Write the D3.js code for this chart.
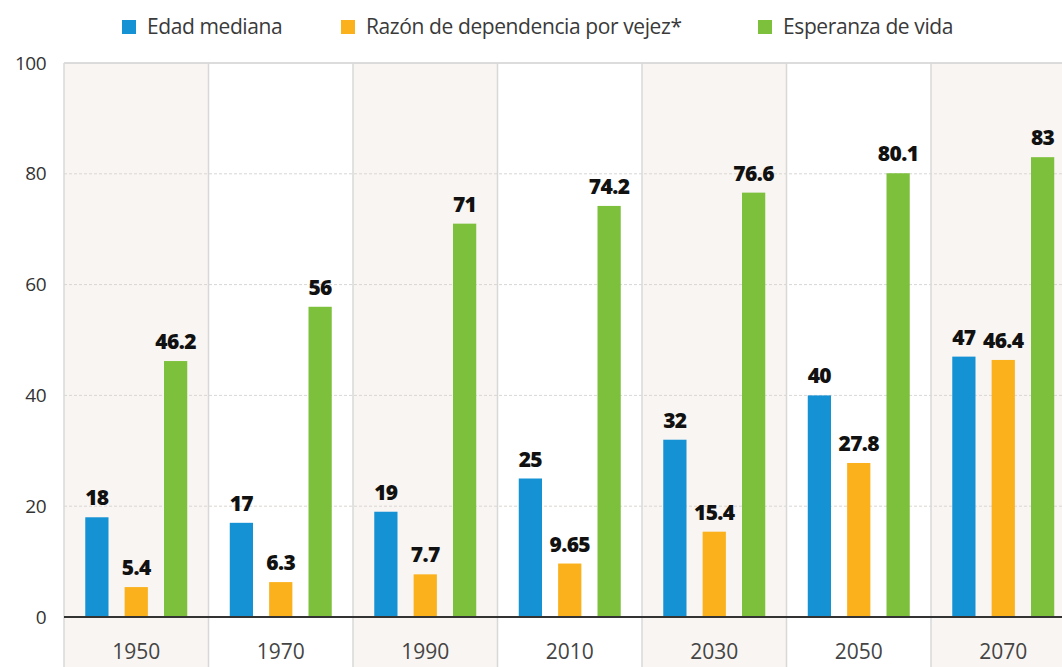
<!DOCTYPE html>
<html>
<head>
<meta charset="utf-8">
<script src="https://cdn.jsdelivr.net/npm/d3@7"></script>
<style>
  body { margin: 0; background: #fff; }
  #chart { width: 1062px; height: 667px; overflow: hidden; }
</style>
</head>
<body>
<div id="chart"></div>
<script>
const years = ["1950", "1970", "1990", "2010", "2030", "2050", "2070"];
const seriesNames = ["Edad mediana", "Razón de dependencia por vejez*", "Esperanza de vida"];
const edadMediana = [18, 17, 19, 25, 32, 40, 47];
const razonDependencia = [5.4, 6.3, 7.7, 9.65, 15.4, 27.8, 46.4];
const esperanzaVida = [46.2, 56, 71, 74.2, 76.6, 80.1, 83];
const labelsEdad = ["18", "17", "19", "25", "32", "40", "47"];
const labelsRazon = ["5.4", "6.3", "7.7", "9.65", "15.4", "27.8", "46.4"];
const labelsVida = ["46.2", "56", "71", "74.2", "76.6", "80.1", "83"];
const yTicks = [0, 20, 40, 60, 80, 100];

const width = 1062, height = 667;
const margin = { top: 63, left: 64, bottom: 50 };
const colors = ["#1592d4", "#fbb11b", "#7cc03b"];
const font = "'Open Sans', sans-serif";

const svg = d3.select('#chart').append('svg')
  .attr('width', width)
  .attr('height', height)
  .attr('viewBox', [0, 0, width, height]);

const x0 = d3.scaleBand()
  .domain(years)
  .range([margin.left, margin.left + 144.5 * years.length])
  .paddingInner(0);

const x1 = d3.scaleBand()
  .domain(d3.range(3))
  .range([0, x0.bandwidth()])
  .paddingInner(0.41)
  .paddingOuter(0.54);

const y = d3.scaleLinear()
  .domain([0, 100])
  .range([height - margin.bottom, margin.top]);

// alternating column backgrounds
svg.append('g').selectAll('rect')
  .data(years)
  .join('rect')
  .attr('x', d => x0(d))
  .attr('y', margin.top)
  .attr('width', x0.bandwidth())
  .attr('height', height - margin.top)
  .attr('fill', (d, i) => i % 2 === 0 ? "#f8f5f2" : "#fff");

// grid lines
svg.append('g').selectAll('line')
  .data(yTicks.filter(d => d > 0 && d < 100))
  .join('line')
  .attr('x1', margin.left).attr('x2', width)
  .attr('y1', d => y(d)).attr('y2', d => y(d))
  .attr('stroke', "#d9d6d3")
  .attr('stroke-width', 1)
  .attr('stroke-dasharray', "3,2");

svg.append('line')
  .attr('x1', margin.left).attr('x2', width)
  .attr('y1', y(100)).attr('y2', y(100))
  .attr('stroke', "#d0d0d0").attr('stroke-width', 1.5);

// vertical separators
svg.append('g').selectAll('line')
  .data(years)
  .join('line')
  .attr('x1', d => x0(d)).attr('x2', d => x0(d))
  .attr('y1', margin.top).attr('y2', height)
  .attr('stroke', "#d8d8d8").attr('stroke-width', 1.5);

// y axis
const yAxis = svg.append('g')
  .attr('transform', `translate(${margin.left - 18},0)`)
  .call(d3.axisLeft(y).tickValues(yTicks).tickSize(0).tickPadding(0));
yAxis.select('.domain').remove();
yAxis.selectAll('text')
  .attr('fill', "#333")
  .style('font-family', font)
  .style('font-weight', 500)
  .style('font-size', "19px")
  .style('letter-spacing', "-0.5px");

// bars
const series = [edadMediana, razonDependencia, esperanzaVida];
const seriesLabels = [labelsEdad, labelsRazon, labelsVida];

const groups = svg.append('g').selectAll('g')
  .data(years)
  .join('g')
  .attr('transform', d => `translate(${x0(d)},0)`);

groups.selectAll('rect')
  .data((d, i) => series.map((s, k) => ({ k: k, v: s[i] })))
  .join('rect')
  .attr('x', d => x1(d.k))
  .attr('y', d => y(d.v))
  .attr('width', x1.bandwidth())
  .attr('height', d => y(0) - y(d.v))
  .attr('fill', d => colors[d.k]);

groups.selectAll('text')
  .data((d, i) => series.map((s, k) => ({ k: k, v: s[i], label: seriesLabels[k][i] })))
  .join('text')
  .attr('x', d => x1(d.k) + x1.bandwidth() / 2)
  .attr('y', d => y(d.v) - 12)
  .attr('text-anchor', "middle")
  .attr('fill', "#111")
  .style('font-family', font)
  .style('font-weight', 800)
  .style('font-size', "21px")
  .style('letter-spacing', "-0.6px")
  .text(d => d.label);

// baseline
svg.append('line')
  .attr('x1', margin.left).attr('x2', width)
  .attr('y1', y(0)).attr('y2', y(0))
  .attr('stroke', "#333").attr('stroke-width', 2);

// x labels
svg.append('g').selectAll('text')
  .data(years)
  .join('text')
  .attr('x', d => x0(d) + x0.bandwidth() / 2)
  .attr('y', 659)
  .attr('text-anchor', "middle")
  .attr('fill', "#444")
  .style('font-family', font)
  .style('font-weight', 500)
  .style('font-size', "21px")
  .style('letter-spacing', "0px")
  .text(d => d);

// legend
const legendX = [122, 341, 758];
const legend = svg.append('g').selectAll('g')
  .data(seriesNames)
  .join('g')
  .attr('transform', (d, i) => `translate(${legendX[i]},20)`);

legend.append('rect')
  .attr('width', 14).attr('height', 14)
  .attr('fill', (d, i) => colors[i]);

legend.append('text')
  .attr('x', 25)
  .attr('y', 14)
  .attr('fill', "#3a3a3a")
  .style('font-family', font)
  .style('font-weight', 500)
  .style('font-size', "21px")
  .style('letter-spacing', "-0.4px")
  .text(d => d);
</script>
</body>
</html>
